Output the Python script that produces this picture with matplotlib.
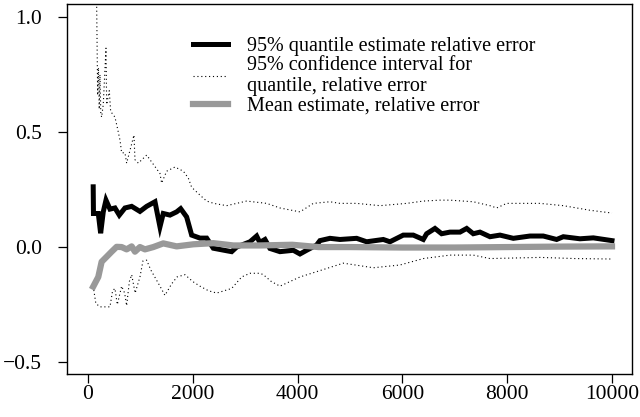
import matplotlib
matplotlib.use("Agg")
import matplotlib.pyplot as plt
import numpy as np

# ---- data ----
q_x = [100, 105, 197, 242, 292, 344, 420, 515, 598, 706, 834, 992, 1120, 1279, 1374, 1437,
       1565, 1692, 1769, 1883, 1979, 2137, 2265, 2392, 2646, 2742, 2837, 3092, 3219, 3280,
       3378, 3473, 3664, 3919, 4046, 4173, 4364, 4427, 4618, 4809, 5127, 5318, 5636, 5763,
       6017, 6208, 6399, 6463, 6622, 6749, 6908, 7099, 7227, 7353, 7481, 7672, 7863, 8117,
       8435, 8689, 8944, 9071, 9389, 9644, 10000]
q_y = [0.262, 0.146, 0.146, 0.060, 0.153, 0.204, 0.165, 0.170, 0.139, 0.170, 0.177, 0.155,
       0.177, 0.197, 0.088, 0.146, 0.139, 0.153, 0.167, 0.131, 0.052, 0.039, 0.039, -0.005,
       -0.016, -0.020, 0.000, 0.023, 0.048, 0.020, 0.033, -0.006, -0.020, -0.014, -0.030,
       -0.014, 0.009, 0.028, 0.038, 0.033, 0.038, 0.023, 0.033, 0.023, 0.052, 0.052, 0.033,
       0.058, 0.081, 0.058, 0.065, 0.065, 0.081, 0.058, 0.065, 0.045, 0.052, 0.038, 0.048,
       0.048, 0.033, 0.045, 0.036, 0.040, 0.028]

up_x = [100, 166, 185, 200, 215, 229, 245, 261, 292, 344, 357, 407, 433, 515, 560, 611, 643,
        706, 738, 878, 897, 961, 1120, 1215, 1374, 1406, 1502, 1660, 1820, 1915, 1979, 2137,
        2265, 2400, 2646, 3028, 3410, 3664, 4046, 4300, 4618, 4809, 5127, 5573, 6082, 6400,
        6718, 6908, 7353, 7672, 7799, 7990, 8300, 8626, 9071, 9580, 10000]
up_y = [1.60, 1.05, 0.66, 0.78, 0.60, 0.75, 0.58, 0.565, 0.62, 0.865, 0.62, 0.68, 0.59, 0.565,
        0.52, 0.465, 0.41, 0.41, 0.365, 0.487, 0.38, 0.365, 0.40, 0.37, 0.32, 0.278, 0.33,
        0.348, 0.33, 0.30, 0.26, 0.226, 0.20, 0.19, 0.18, 0.20, 0.19, 0.17, 0.153, 0.19, 0.197,
        0.19, 0.19, 0.18, 0.19, 0.20, 0.204, 0.204, 0.197, 0.18, 0.17, 0.19, 0.19, 0.19, 0.18,
        0.16, 0.148]

lo_x = [100, 150, 229, 300, 420, 470, 515, 560, 643, 700, 738, 790, 834, 900, 992, 1050, 1120,
        1200, 1374, 1469, 1597, 1700, 1851, 2000, 2137, 2300, 2456, 2600, 2742, 2933, 3092,
        3282, 3346, 3500, 3664, 4046, 4364, 4873, 5446, 5954, 6400, 6908, 7353, 7672, 8626,
        9300, 10000]
lo_y = [-0.17, -0.245, -0.26, -0.26, -0.26, -0.19, -0.18, -0.25, -0.17, -0.20, -0.255, -0.15,
        -0.12, -0.20, -0.13, -0.06, -0.057, -0.10, -0.17, -0.21, -0.16, -0.13, -0.12, -0.15,
        -0.17, -0.19, -0.20, -0.19, -0.18, -0.13, -0.114, -0.114, -0.12, -0.15, -0.17, -0.13,
        -0.107, -0.07, -0.09, -0.078, -0.05, -0.035, -0.035, -0.05, -0.045, -0.05, -0.052]

m_x = [100, 197, 261, 357, 452, 547, 643, 738, 834, 897, 992, 1088, 1247, 1437, 1692, 2010,
       2392, 2774, 3282, 3900, 4400, 5000, 6000, 7000, 8000, 9000, 10000]
m_y = [-0.172, -0.13, -0.064, -0.042, -0.02, 0.001, 0.0, -0.01, 0.003, -0.02, 0.0, -0.01, 0.0,
       0.016, 0.003, 0.012, 0.017, 0.007, 0.007, 0.010, 0.0, 0.0, -0.002, -0.002, 0.0, 0.002,
       0.003]

labels = ["95% quantile estimate relative error",
          "95% confidence interval for\nquantile, relative error",
          "Mean estimate, relative error"]
x_ticks = [0, 2000, 4000, 6000, 8000, 10000]
y_ticks = [-0.5, 0.0, 0.5, 1.0]
y_ticklabels = ["\u22120.5", "0.0", "0.5", "1.0"]

plt.rcParams['font.family'] = ['Liberation Serif', 'DejaVu Serif']
FS_TICK = 15.5
FS_LEG = 14.5

fig = plt.figure(figsize=(6.4, 4.17), dpi=100)
ax = fig.add_axes([67/640, 1 - 374/417, (632-67)/640, (374-4)/417])

ax.plot(q_x, q_y, color='black', lw=3.6, solid_joinstyle='miter', label=labels[0], zorder=3)
ax.plot(up_x, up_y, color='black', lw=0.8, linestyle=(0, (1, 2.5)), label=labels[1], zorder=2)
ax.plot(lo_x, lo_y, color='black', lw=0.8, linestyle=(0, (1, 2.5)), zorder=2)
ax.plot(m_x, m_y, color='#999999', lw=4.5, label=labels[2], zorder=4)

ax.set_xlim(-400, 10382)
ax.set_ylim(-0.552, 1.057)
ax.set_xticks(x_ticks)
ax.set_xticklabels([str(v) for v in x_ticks], fontsize=FS_TICK)
ax.set_yticks(y_ticks)
ax.set_yticklabels(y_ticklabels, fontsize=FS_TICK)
ax.tick_params(direction='out', length=6.5, width=0.9, color='black')
ax.tick_params(axis='y', pad=11.5)
ax.tick_params(axis='x', pad=1.5)
for s in ax.spines.values():
    s.set_linewidth(1.0)
    s.set_color('black')

handles, labs = ax.get_legend_handles_labels()
leg = ax.legend(handles, labs, loc='upper left', bbox_to_anchor=((193-67)/565, (374-37)/370),
                frameon=False, fontsize=FS_LEG, handlelength=1.75, handletextpad=0.95,
                labelspacing=0.02, borderpad=0, borderaxespad=0)
for t in leg.get_texts():
    t.set_linespacing(1.12)

fig.savefig('out.png', dpi=100)
